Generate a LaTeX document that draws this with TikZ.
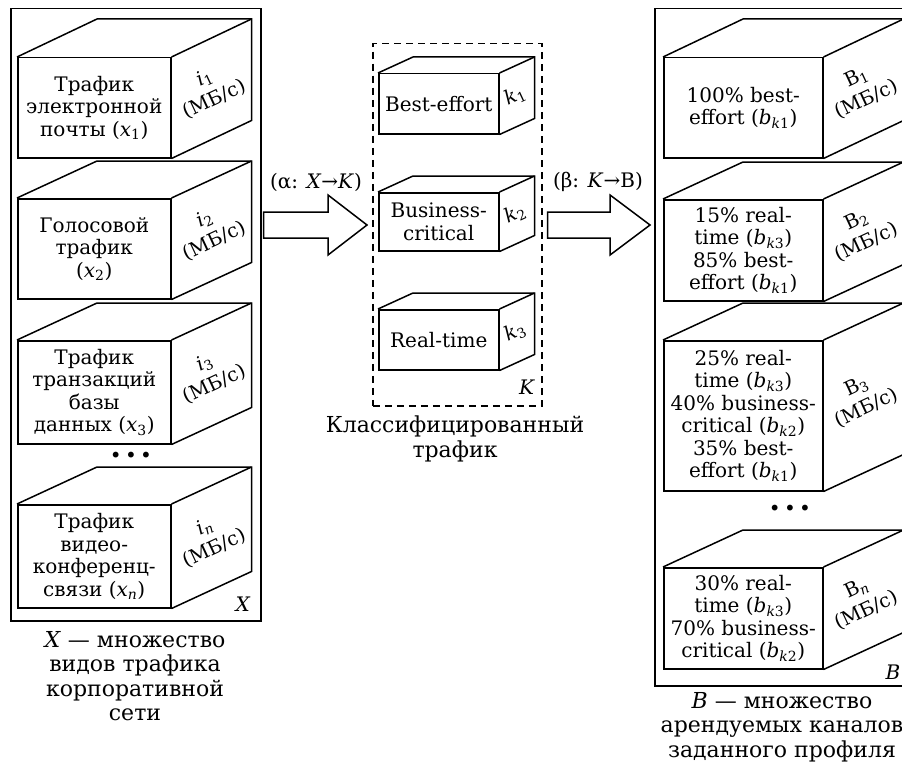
\documentclass[tikz,border=0pt]{standalone}
\usepackage{fontspec}
\setmainfont{DejaVu Serif}
\usetikzlibrary{calc}
\newcommand\sbs[1]{\textsubscript{#1}}
\newcommand\mycube[9]{%
  \node[front, minimum width=#4pt, minimum height=#5pt, anchor=north west] (#1) at (#2,#3) {#8};
  \draw[edge] (#1.north west) -- ++(#6,#7) -- ([shift={(#6,#7)}]#1.north east) -- ([shift={(#6,#7)}]#1.south east) -- (#1.south east);
  \draw[edge] (#1.north east) -- ++(#6,#7);
  \node[side] (#1s) at ([shift={({#6/2-2},{#7/2})}]#1.east) {#9};
}
\tikzset{
  edge/.style={line width=1.5pt, line join=miter},
  front/.style={draw, line width=1.5pt, inner sep=0pt, align=center},
  side/.style={rotate=25, align=center, inner sep=0pt, font=\fontsize{19.5}{24}\selectfont},
  container/.style={draw, line width=1.5pt, inner sep=0pt},
  caption/.style={align=center, inner sep=0pt, font=\fontsize{22}{24.5}\selectfont},
}
\begin{document}
\begin{tikzpicture}[x=1pt, y=-1pt, font=\fontsize{20}{22.5}\selectfont]
\useasboundingbox (0,0) rectangle (902,768);
% containers
\node[container, minimum width=250pt, minimum height=612pt, anchor=north west] (Xbox) at (10,8) {};
\node[container, minimum width=260pt, minimum height=677pt, anchor=north west] (Bbox) at (654,8) {};
\node[draw, line width=1.5pt, dash pattern=on 7pt off 5pt, minimum width=169pt, minimum height=362pt, anchor=north west, inner sep=0pt] (Kbox) at (372,43) {};
% left cubes
\mycube{x1}{17}{57}{153}{100}{80}{-38}{Трафик\\электронной\\почты (\textit{x}\sbs{1})}{\textit{i}\sbs{1}\\(МБ/с)}
\mycube{x2}{17}{198}{153}{100}{80}{-37}{Голосовой\\трафик\\(\textit{x}\sbs{2})}{\textit{i}\sbs{2}\\(МБ/с)}
\mycube{x3}{17}{340}{153}{103}{80}{-37}{Трафик\\транзакций\\базы\\данных (\textit{x}\sbs{3})}{\textit{i}\sbs{3}\\(МБ/с)}
\mycube{xn}{17}{504}{153}{103}{80}{-37}{Трафик\\видео-\\конференц-\\связи (\textit{x}\sbs{\textit{n}})}{\textit{i}\sbs{\textit{n}}\\(МБ/с)}
\node (dotsL) at (131,457) {•\,•\,•};
\node (Xlab) at (243,604) {\textit{X}};
% middle cubes
\mycube{k1}{378}{73}{120}{60}{35}{-16}{Best-effort}{\textit{k}\sbs{1}}
\mycube{k2}{378}{192}{120}{58}{35}{-16}{Business-\\critical}{\textit{k}\sbs{2}}
\mycube{k3}{378}{309}{120}{60}{35}{-16}{Real-time}{\textit{k}\sbs{3}}
\node (Klab) at (527,387) {\textit{K}};
% right cubes
\mycube{b1}{663}{57}{159}{100}{80}{-38}{100\% best-\\effort (\textit{b}\sbs{\textit{k}1})}{B\sbs{1}\\(МБ/с)}
\mycube{b2}{663}{199}{159}{101}{80}{-37}{15\% real-\\time (\textit{b}\sbs{\textit{k}3})\\85\% best-\\effort (\textit{b}\sbs{\textit{k}1})}{B\sbs{2}\\(МБ/с)}
\mycube{b3}{663}{340}{159}{150}{80}{-37}{25\% real-\\time (\textit{b}\sbs{\textit{k}3})\\40\% business-\\critical (\textit{b}\sbs{\textit{k}2})\\35\% best-\\effort (\textit{b}\sbs{\textit{k}1})}{B\sbs{3}\\(МБ/с)}
\mycube{bn}{663}{567}{159}{101}{80}{-37}{30\% real-\\time (\textit{b}\sbs{\textit{k}3})\\70\% business-\\critical (\textit{b}\sbs{\textit{k}2})}{B\sbs{\textit{n}}\\(МБ/с)}
\node (dotsR) at (790,510) {•\,•\,•};
\node (Blab) at (893,672) {\textit{B}};
% block arrows
\coordinate (a1) at (Xbox.east |- 0,225);
\draw[edge] ([xshift=2pt]a1) -- ++(0,-13) -- (328,212) -- (328,195) -- (367,225) -- (328,255) -- (328,238) -- ([xshift=2pt,yshift=-13pt]a1) -- cycle;
\node (alab) at (316,182) {(α: \textit{X}→\textit{K})};
\coordinate (a2) at (Kbox.east |- 0,225);
\draw[edge] ([xshift=5pt]a2) -- ++(0,-13) -- (610,212) -- (610,195) -- (650,225) -- (610,255) -- (610,238) -- ([xshift=5pt,yshift=-13pt]a2) -- cycle;
\node (blab) at (598,182) {(β: \textit{K}→B)};
% captions
\node[caption, anchor=north] (capX) at (135,631) {\textit{X} — множество\\видов трафика\\корпоративной\\сети};
\node[caption, anchor=north] (capK) at (455,416) {Классифицированный\\трафик};
\node[caption, anchor=north] (capB) at (782,692) {\textit{B} — множество\\арендуемых каналов\\заданного профиля};
\end{tikzpicture}
\end{document}
